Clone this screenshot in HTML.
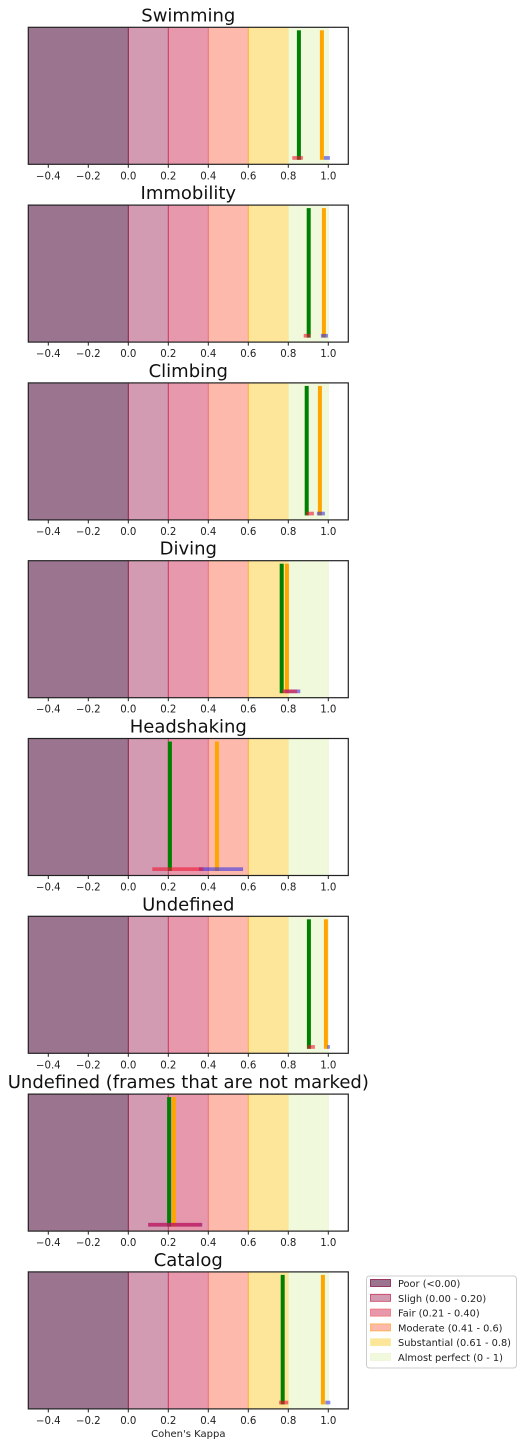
<!DOCTYPE html>
<html><head><meta charset="utf-8"><style>
html,body{margin:0;padding:0;background:#fff;}
svg{display:block;font-family:"DejaVu Sans","Liberation Sans",sans-serif;}
</style></head><body>
<svg id="chart" width="524" height="1446" xmlns="http://www.w3.org/2000/svg"></svg>
<script>
const titles = ["Swimming","Immobility","Climbing","Diving","Headshaking","Undefined","Undefined (frames that are not marked)","Catalog"];
const greenVals = [0.853,0.902,0.892,0.767,0.208,0.903,0.204,0.772];
const orangeVals = [0.968,0.978,0.958,0.793,0.443,0.988,0.228,0.973];
const redLo = [0.82,0.877,0.89,0.77,0.12,0.895,0.099,0.754];
const redHi = [0.873,0.91,0.928,0.845,0.375,0.933,0.367,0.80];
const blueLo = [0.978,0.963,0.943,0.78,0.353,0.995,0.10,0.985];
const blueHi = [1.008,0.998,0.983,0.86,0.574,1.008,0.37,1.01];
const bandEdges = [-0.5,0,0.2,0.4,0.6,0.8,1.0];
const bandNames = ["Poor (<0.00)","Sligh (0.00 - 0.20)","Fair (0.21 - 0.40)","Moderate (0.41 - 0.6)","Substantial (0.61 - 0.8)","Almost perfect (0 - 1)"];
const ticks = [-0.4,-0.2,0.0,0.2,0.4,0.6,0.8,1.0];
const tickLabels = ["\u22120.4","\u22120.2","0.0","0.2","0.4","0.6","0.8","1.0"];

const bandFill = ["rgb(155,117,143)","rgb(210,155,178)","rgb(231,152,172)","rgb(253,186,172)","rgb(253,229,154)","rgb(240,249,220)"];
const bandLine = ["#8b1a4a","#c8385a","#f07070","#fbb040","#f3eea0","#eef6d8"];
const svg = document.getElementById('chart');
const NS = "http://www.w3.org/2000/svg";
const X0 = 28.3, X1 = 348.3, XMIN = -0.5, XMAX = 1.1;
const x = v => X0 + (v - XMIN) / (XMAX - XMIN) * (X1 - X0);
const PH = 137, TOP0 = 27.3, STEP = 177.8;
function mk(tag, attrs, parent){const e=document.createElementNS(NS,tag);for(const k in attrs)e.setAttribute(k,attrs[k]);(parent||svg).appendChild(e);return e;}

titles.forEach((t,i)=>{
  const top = TOP0 + i*STEP, bot = top + PH;
  const g = mk('g',{});
  
  
  for(let b=0;b<6;b++){
    const r = mk('rect',{x:x(bandEdges[b]),y:top,width:x(bandEdges[b+1])-x(bandEdges[b]),height:PH,fill:bandFill[b]},g);
    
    
    if(b>0) mk('line',{x1:x(bandEdges[b]),x2:x(bandEdges[b]),y1:top,y2:bot,stroke:bandLine[b-1],'stroke-width':1},g);
  }
  mk('line',{x1:x(1),x2:x(1),y1:top,y2:bot,stroke:bandLine[5],'stroke-width':1},g);
  const gb = mk('rect',{x:x(greenVals[i])-2,y:top+3,width:4,height:PH-7.5,fill:"#008000"},g);
  
  
  const ob = mk('rect',{x:x(orangeVals[i])-2,y:top+3,width:4,height:PH-7.5,fill:"#ffa500"},g);
  
  
  const be = mk('rect',{x:x(blueLo[i]),y:bot-8.2,width:x(blueHi[i])-x(blueLo[i]),height:3.7,fill:"rgba(40,40,230,0.55)"},g);
  
  
  const re = mk('rect',{x:x(redLo[i]),y:bot-8.2,width:x(redHi[i])-x(redLo[i]),height:3.7,fill:"rgba(240,20,50,0.6)"},g);
  
  
  mk('rect',{x:X0,y:top,width:X1-X0,height:PH,fill:"none",stroke:"#222",'stroke-width':1.2},g);
  ticks.forEach((tv,k)=>{
    mk('line',{x1:x(tv),x2:x(tv),y1:bot,y2:bot+3.5,stroke:"#222",'stroke-width':1},g);
    const tl = mk('text',{x:x(tv),y:bot+15,'font-size':10.2,'text-anchor':'middle',fill:'#222'},g);
    tl.textContent = tickLabels[k];
    
    
  });
  const tt = mk('text',{x:(X0+X1)/2,y:top-6,'font-size':18,'text-anchor':'middle',fill:'#111'},g);
  tt.textContent = t;
  
  
});
const xl = mk('text',{x:(X0+X1)/2,y:1437,'font-size':10,'text-anchor':'middle',fill:'#222'});
xl.textContent = "Cohen's Kappa";



const lg = mk('g',{});


mk('rect',{x:366.5,y:1276,width:150,height:92,rx:3,fill:'#fff',stroke:'#ccc','stroke-width':1},lg);
bandNames.forEach((n,k)=>{
  const yy = 1278.5 + k*14.8;
  const p = mk('rect',{x:370.5,y:yy+1,width:20,height:7,fill:bandFill[k],stroke:bandLine[k],'stroke-width':0.8},lg);
  
  
  const tx = mk('text',{x:398,y:yy+8.5,'font-size':9.8,fill:'#222'},lg);
  tx.textContent = n;
  
  
});
</script>
</body></html>
